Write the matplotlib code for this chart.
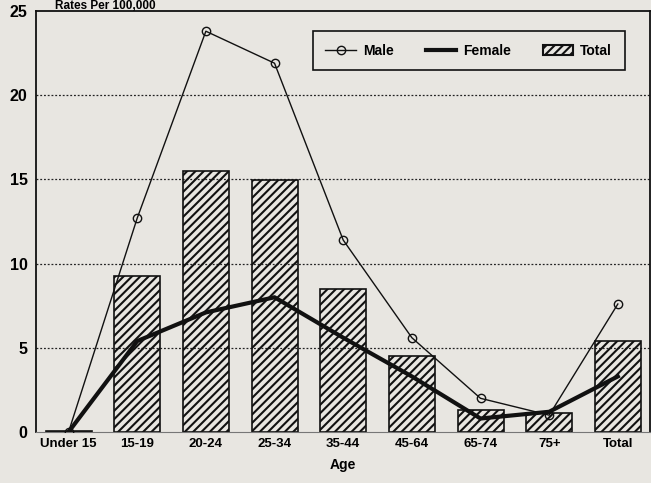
import matplotlib
matplotlib.use("Agg")
import matplotlib.pyplot as plt
from matplotlib.patches import Patch
from matplotlib.lines import Line2D

ages = ["Under 15", "15-19", "20-24", "25-34", "35-44", "45-64", "65-74", "75+", "Total"]
total = [0.05, 9.25, 15.5, 14.95, 8.5, 4.5, 1.3, 1.15, 5.4]
male = [0.0, 12.7, 23.8, 21.9, 11.4, 5.6, 2.0, 1.0, 7.6]
female = [0.0, 5.4, 7.1, 8.0, 5.6, 3.3, 0.8, 1.2, 3.3]

bg = "#e8e6e1"
plt.rcParams["font.family"] = ["Liberation Sans", "DejaVu Sans"]
plt.rcParams["hatch.linewidth"] = 1.5

fig = plt.figure(figsize=(6.51, 4.83), dpi=100, facecolor=bg)
ax = fig.add_axes([0.0553, 0.1056, 0.943, 0.8716], facecolor=bg)

x = list(range(len(ages)))
ax.bar(x, total, width=0.67, color="none", edgecolor="#111111", hatch="////", linewidth=1.2, zorder=2)
ax.plot(x, female, color="#111111", linewidth=3, zorder=3)
ax.plot(x, male, color="#111111", linewidth=1, marker="o", markersize=6,
        markerfacecolor="none", markeredgecolor="#111111", markeredgewidth=1, zorder=4)

ax.set_xlim(-0.474, 8.467)
ax.set_ylim(0, 25)
ax.set_yticks([0, 5, 10, 15, 20, 25])
ax.set_xticks(x)
ax.set_xticklabels(ages)
for y in [5, 10, 15, 20]:
    ax.axhline(y, color="#222222", linestyle=(0, (1.5, 1.5)), linewidth=0.9, zorder=1)

ax.tick_params(axis="both", length=0, labelsize=9.5, pad=4)
for lbl in ax.get_xticklabels() + ax.get_yticklabels():
    lbl.set_fontweight("bold")
for lbl in ax.get_yticklabels():
    lbl.set_fontsize(11.5)
ax.tick_params(axis="y", pad=6)

for s in ["left", "top", "right"]:
    ax.spines[s].set_linewidth(1.3)
    ax.spines[s].set_color("#111111")
ax.spines["bottom"].set_linewidth(0.8)
ax.spines["bottom"].set_color("#777777")

ax.set_xlabel("Age", fontsize=10, fontweight="bold", labelpad=6)
fig.text(0.085, 0.999, "Rates Per 100,000", fontsize=8.5, fontweight="bold", va="top", ha="left")

handles = [
    Line2D([], [], color="#111111", linewidth=1, marker="o", markersize=6,
           markerfacecolor="none", markeredgecolor="#111111"),
    Line2D([], [], color="#111111", linewidth=3),
    Patch(facecolor="none", edgecolor="#111111", hatch="////", linewidth=1.5),
]
leg = ax.legend(handles, ["Male", "Female", "Total"], ncol=3, loc="upper right",
                bbox_to_anchor=(0.959, 0.952), borderaxespad=0, frameon=True, fancybox=False,
                edgecolor="#111111", facecolor=bg, framealpha=1,
                prop={"weight": "bold", "size": 10}, handlelength=2.2,
                columnspacing=2.3, borderpad=0.9, handletextpad=0.5)
leg.get_frame().set_linewidth(1.2)

fig.savefig("out.png", dpi=100, facecolor=bg)
